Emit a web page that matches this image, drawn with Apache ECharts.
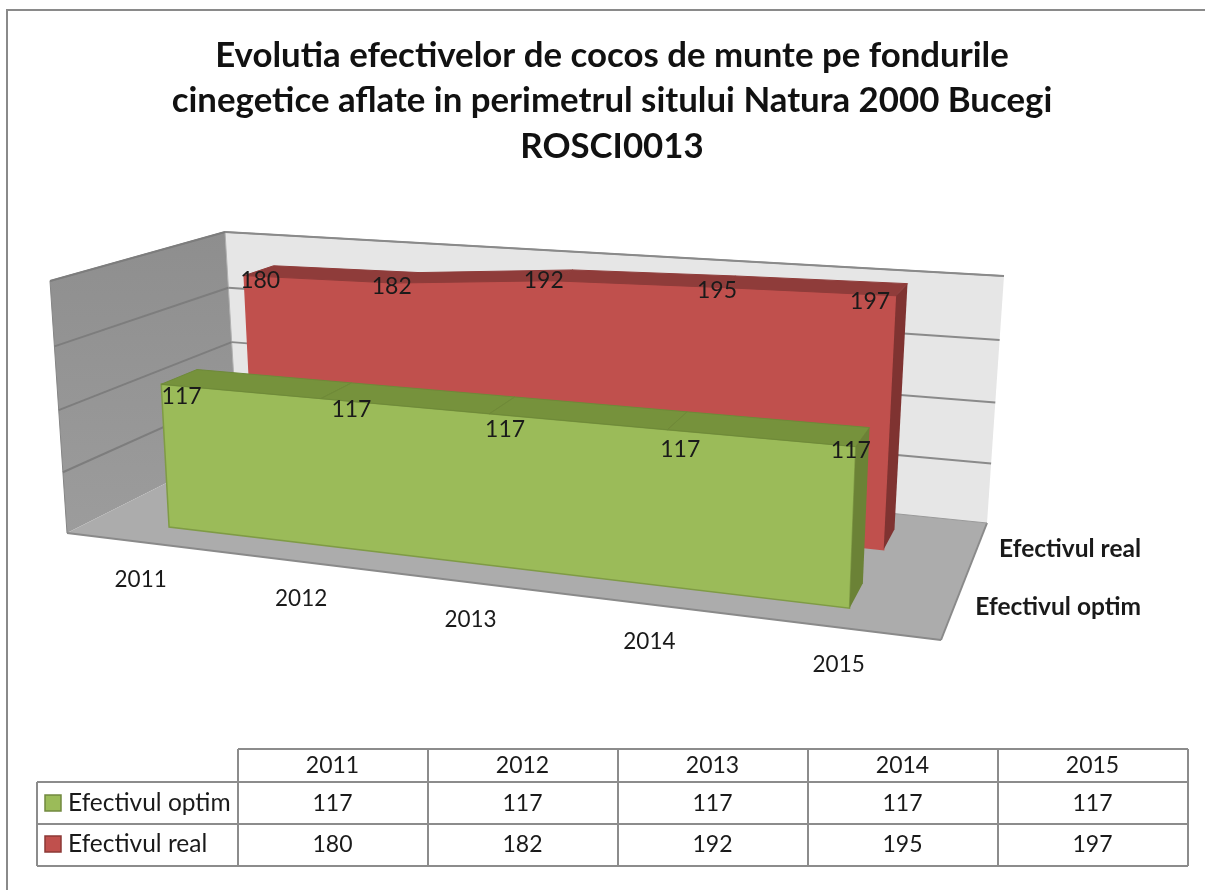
<!DOCTYPE html>
<html>
<head>
<meta charset="utf-8">
<title>Cocos de munte</title>
<style>
  html, body { margin: 0; padding: 0; background: #fff; }
  #main { width: 1205px; height: 890px; }
</style>
<script src="https://cdn.jsdelivr.net/npm/echarts@6/dist/echarts.min.js"></script>
</head>
<body>
<div id="main"></div>
<script>
// data
var years = ['2011', '2012', '2013', '2014', '2015'];
var optimName = 'Efectivul optim';
var realName = 'Efectivul real';
var optimValues = [117, 117, 117, 117, 117];
var realValues = [180, 182, 192, 195, 197];
var valueTicks = [0, 50, 100, 150, 200];

var FONT = 'Lato, Carlito, sans-serif';
var INK = '#1a1a1a';
var GRID_W = 1000, GRID_H = 800;

// screen corners of the 3d box: front/back, bottom/top, left/right
var FBL = [67, 533], FBR = [941, 640], FTL = [50, 281], FTR = [955, 345];
var BBL = [238, 447], BBR = [987, 523], BTL = [225, 232], BTR = [1004, 276];

function mix(a, b, t) {
  return [a[0] + (b[0] - a[0]) * t, a[1] + (b[1] - a[1]) * t];
}
// u along years, d into the depth, v up the value axis (all 0..1)
function project(u, d, v) {
  var su = u * 251 / ((1 - u) * 288 + u * 251);
  var sv = v / ((1 - v) * 1.05 + v);
  var front = mix(mix(FBL, FBR, su), mix(FTL, FTR, su), sv);
  var back = mix(mix(BBL, BBR, su), mix(BTL, BTR, su), sv);
  return mix(front, back, d);
}
// go through the hidden axes so every mark uses the library scales
function norm(api, cat, val) {
  var p = api.coord([cat, val]);
  return [p[0] / GRID_W, 1 - p[1] / GRID_H];
}
function poly(points, fill, stroke, lineWidth) {
  return {
    type: 'polygon',
    shape: { points: points },
    style: { fill: fill, stroke: stroke || null, lineWidth: lineWidth || 0 }
  };
}
function line(a, b, color, width) {
  return {
    type: 'line',
    shape: { x1: a[0], y1: a[1], x2: b[0], y2: b[1] },
    style: { stroke: color, lineWidth: width }
  };
}
function label(text, x, y, size, weight, align) {
  return {
    type: 'text',
    style: {
      text: text, x: x, y: y, fill: INK, align: align || 'center', verticalAlign: 'middle',
      fontFamily: FONT, fontSize: size, fontWeight: weight || 'normal'
    }
  };
}

function renderWalls(params, api) {
  var kids = [];
  var v = norm(api, 0, api.value(1))[1];
  if (params.dataIndex === 0) {
    kids.push(poly([BBL, BBR, BTR, BTL], '#e6e6e6'));
    kids.push(poly([FBL, BBL, BTL, FTL], {
      type: 'linear', x: 0, y: 0, x2: 0, y2: 1,
      colorStops: [{ offset: 0, color: '#8e8e8e' }, { offset: 1, color: '#9c9c9c' }]
    }));
    kids.push(poly([FBL, FBR, BBR, BBL], '#acacac'));
    kids.push(line(FBL, FBR, '#8a8a8a', 2));
    kids.push(line(FBR, BBR, '#8a8a8a', 2));
    kids.push(line(BBL, BBR, '#9a9a9a', 1));
    kids.push(line(FTL, FBL, '#858585', 1));
    kids.push(line(FTL, BTL, '#858585', 1.5));
    kids.push(line(BTL, BTR, '#8a8a8a', 1.5));
    kids.push(line(BTL, BBL, '#b0b0b0', 1));
  }
  if (v > 0) {
    kids.push(line(project(0, 0, v), project(0, 1, v), '#7d7d7d', 2));
    kids.push(line(project(0, 1, v), project(1, 1, v), '#8a8a8a', 2));
  }
  return { type: 'group', children: kids };
}

// the ribbon is drawn once on the first point, labels on every point
function ribbon(values, d0, d1, shift, colors, nudges) {
  return function (params, api) {
    var kids = [];
    var i;
    if (params.dataIndex === 0) {
      var frontTop = [], backTop = [];
      for (i = 0; i < values.length; i++) {
        var n = norm(api, i, values[i]);
        frontTop.push(project(n[0] + shift, d0, n[1]));
        backTop.push(project(n[0] + shift, d1, n[1]));
      }
      var first = norm(api, 0, 0), last = norm(api, values.length - 1, 0);
      var botL = project(first[0] + shift, d0, 0), botR = project(last[0] + shift, d0, 0);
      var botRB = project(last[0] + shift, d1, 0);
      var end = values.length - 1;
      kids.push(poly(frontTop.concat([botR, botL]), colors.front, colors.edge, 1.5));
      for (i = 0; i < end; i++) {
        kids.push(poly([frontTop[i], frontTop[i + 1], backTop[i + 1], backTop[i]], colors.top, colors.seam, 1));
      }
      kids.push(poly([botR, botRB, backTop[end], frontTop[end]], colors.side));
    }
    var k = params.dataIndex;
    var p = norm(api, k, values[k]);
    var at = project(p[0], d0, p[1]);
    kids.push(label(String(values[k]), at[0] + nudges[k][0], at[1] + nudges[k][1], 23));
    return { type: 'group', children: kids };
  };
}

function renderYears(params, api) {
  var n = norm(api, params.dataIndex, 0);
  var at = project(n[0], 0, 0);
  return label(years[params.dataIndex], at[0] - 3.5, at[1] + 37, 22.5);
}

function renderDepthNames(params, api) {
  var names = [optimName, realName];
  var depth = [0.28, 0.78];
  var at = project(1, depth[params.dataIndex], 0);
  return label(names[params.dataIndex], 1141, at[1], 24.5, 'bold', 'right');
}

function pairs(values) {
  return values.map(function (v, i) { return [i, v]; });
}

// the data table under the chart
function tableGraphics() {
  var colX = [238, 428, 618, 808, 998, 1188];
  var rowY = [749, 782, 824, 866];
  var left = 37;
  var c = '#8c8c8c';
  var out = [];
  function seg(x1, y1, x2, y2) {
    out.push({ type: 'line', shape: { x1: x1, y1: y1, x2: x2, y2: y2 }, style: { stroke: c, lineWidth: 2 } });
  }
  function txt(t, x, y, align, size) {
    out.push({ type: 'text', style: { text: t, x: x, y: y, fill: INK, align: align, verticalAlign: 'middle', fontFamily: FONT, fontSize: size } });
  }
  seg(colX[0], rowY[0], colX[5], rowY[0]);
  seg(left, rowY[1], colX[5], rowY[1]);
  seg(left, rowY[2], colX[5], rowY[2]);
  seg(left, rowY[3], colX[5], rowY[3]);
  seg(left, rowY[1], left, rowY[3]);
  colX.forEach(function (x) { seg(x, rowY[0], x, rowY[3]); });
  years.forEach(function (y, i) {
    var mid = (colX[i] + colX[i + 1]) / 2;
    txt(y, mid - 0.5, 766, 'center', 23);
    txt(String(optimValues[i]), mid - 0.5, 804, 'center', 23);
    txt(String(realValues[i]), mid - 0.5, 845, 'center', 23);
  });
  out.push({ type: 'rect', shape: { x: 45, y: 795, width: 16, height: 16 }, style: { fill: '#9bbb59', stroke: '#71893f', lineWidth: 1.5 } });
  out.push({ type: 'rect', shape: { x: 45, y: 836, width: 16, height: 16 }, style: { fill: '#c0504d', stroke: '#8c3836', lineWidth: 1.5 } });
  txt(optimName, 68, 803, 'left', 24.5);
  txt(realName, 68, 844, 'left', 24.5);
  // outer frame of the chart area
  out.push({ type: 'polyline', shape: { points: [[1205, 10], [7, 10], [7, 890]] }, style: { fill: null, stroke: '#8a8a8a', lineWidth: 2 } });
  return out;
}

var chart = echarts.init(document.getElementById('main'));
chart.setOption({
  animation: false,
  backgroundColor: '#fff',
  title: {
    text: 'Evolutia efectivelor de cocos de munte pe fondurile\ncinegetice aflate in perimetrul sitului Natura 2000 Bucegi\nROSCI0013',
    left: 607, top: 28, textAlign: 'center',
    textStyle: { fontFamily: FONT, fontSize: 34.8, fontWeight: 'bold', color: '#111', lineHeight: 45.5 }
  },
  grid: { left: 0, top: 0, width: GRID_W, height: GRID_H, show: false },
  xAxis: { type: 'category', data: years, boundaryGap: true, show: false },
  yAxis: { type: 'value', min: 0, max: 200, interval: 50, show: false },
  graphic: tableGraphics(),
  series: [
    { type: 'custom', name: 'walls', clip: false, silent: true, z: 1, data: pairs(valueTicks), renderItem: renderWalls },
    {
      type: 'custom', name: realName, clip: false, silent: true, z: 2, data: pairs(realValues),
      renderItem: ribbon(realValues, 0.69, 0.87, 0, { front: '#c0504d', top: '#8f3c3a', side: '#7f3331', edge: '#c0504d', seam: '#8f3c3a' },
        [[16, 5], [-2, 4], [-8, 0], [-2, 3], [-26, 6]])
    },
    {
      type: 'custom', name: optimName, clip: false, silent: true, z: 3, data: pairs(optimValues),
      renderItem: ribbon(optimValues, 0.17, 0.39, -0.003, { front: '#9bbb59', top: '#76923c', side: '#6b8236', edge: '#7f9b45', seam: '#6e8a38' },
        [[18, 12], [28, 11], [13, 16], [10, 20], [-8, 4]])
    },
    { type: 'custom', name: 'years', clip: false, silent: true, z: 4, data: pairs(optimValues), renderItem: renderYears },
    { type: 'custom', name: 'series names', clip: false, silent: true, z: 4, data: [[0, 0], [1, 0]], renderItem: renderDepthNames }
  ]
});
</script>
</body>
</html>
